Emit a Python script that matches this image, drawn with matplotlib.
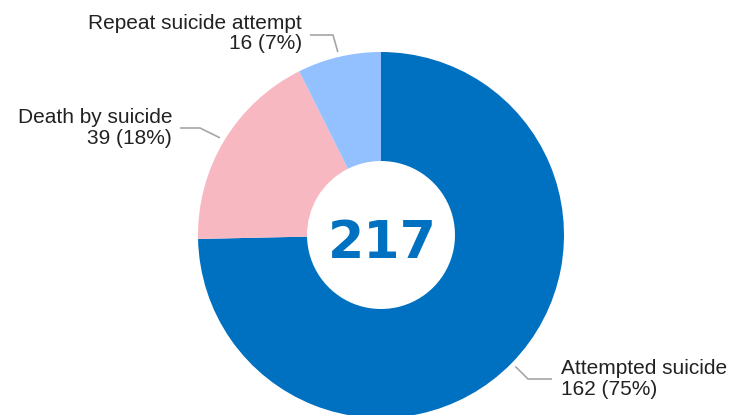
import numpy as np
import matplotlib.pyplot as plt

plt.rcParams['font.family'] = ['Liberation Sans', 'DejaVu Sans']

labels = ["Attempted suicide", "Death by suicide", "Repeat suicide attempt"]
counts = [162, 39, 16]
percents = [75, 18, 7]
colors = ["#0070C0", "#F8B8C1", "#93C0FF"]
total = sum(counts)

W, H = 731, 415
fig = plt.figure(figsize=(W / 100, H / 100), dpi=100)
ax = fig.add_axes([0, 0, 1, 1])

cx, cy, R = 381, 180, 183
ax.pie(counts, colors=colors, startangle=90, counterclock=False,
       radius=R, center=(cx, cy), frame=True,
       wedgeprops=dict(width=109, linewidth=0))
ax.set_xlim(0, W)
ax.set_ylim(0, H)
ax.set_aspect("equal")
ax.axis("off")

ax.text(cx + 1, cy - 9, str(total), ha="center", va="center", fontsize=37.5,
        fontweight="bold", color="#0070C0", family="DejaVu Sans")

# leader elbows / text anchors (pixel layout)
elbows = [(528, 36), (200, 287), (333, 380)]
ends = [(552, 36), (180, 287), (310, 380)]
text_pos = [(561, 36, "left"), (172, 287, "right"), (302, 381.5, "right")]

start = 90.0
for lab, n, p, el, en, tp in zip(labels, counts, percents, elbows, ends, text_pos):
    span = n / total * 360
    mid = np.radians(start - span / 2)
    start -= span
    sx, sy = cx + 188 * np.cos(mid), cy + 188 * np.sin(mid)
    ax.plot([sx, el[0], en[0]], [sy, el[1], en[1]], color="#A6A6A6", lw=1.2,
            solid_capstyle="butt")
    ax.text(tp[0], tp[1], f"{lab}\n{n} ({p}%)", ha=tp[2], va="center",
            fontsize=15, color="#222222", linespacing=1.13, multialignment=tp[2])

fig.savefig("out.png", dpi=100)
